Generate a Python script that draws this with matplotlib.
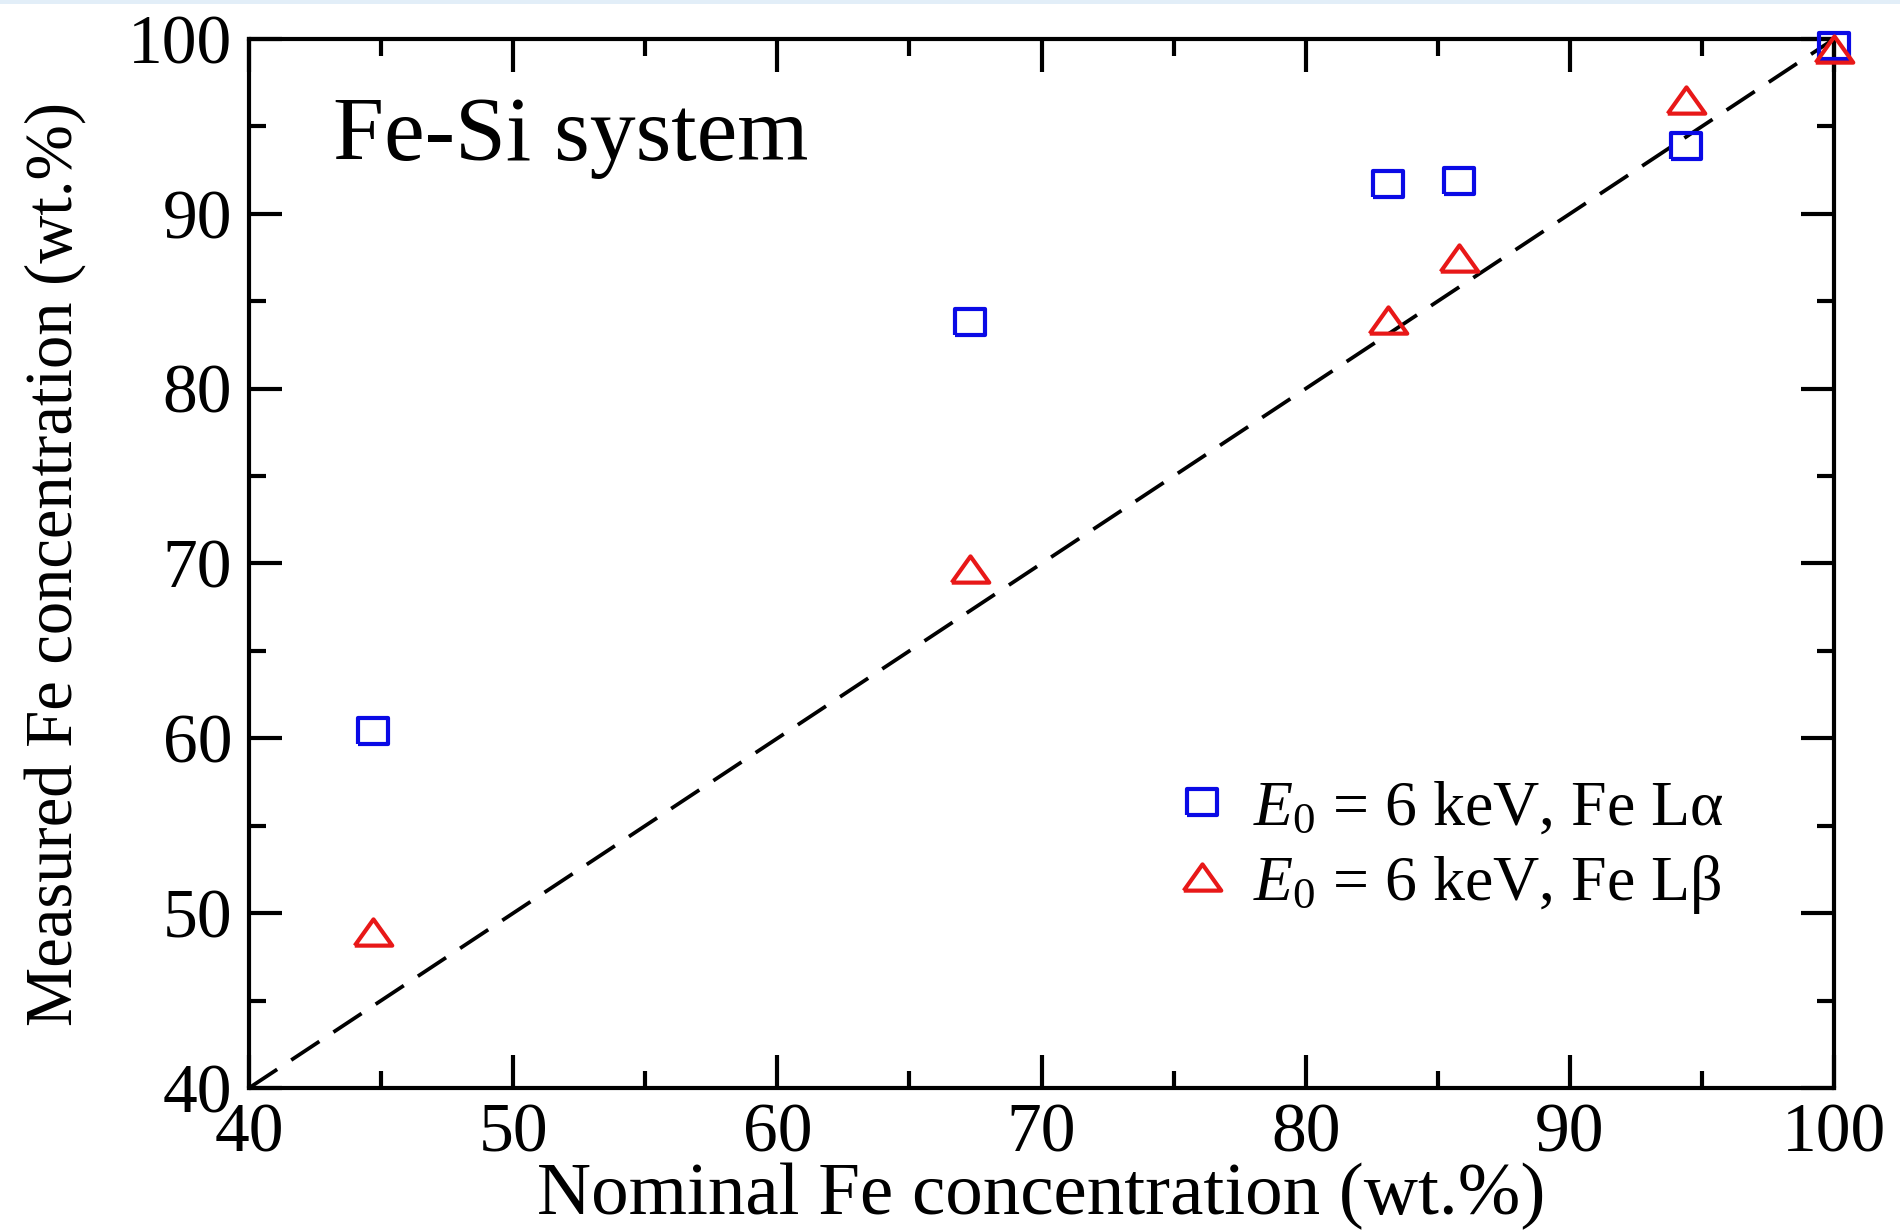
import matplotlib
matplotlib.use("Agg")
import matplotlib.pyplot as plt
from matplotlib.patches import Rectangle
from matplotlib.ticker import MultipleLocator

# ---- data ----
nominal = [44.7, 67.3, 83.1, 85.8, 94.4, 100.0]
measured_la = [60.4, 83.8, 91.7, 91.9, 93.9, 99.6]
measured_lb = [48.9, 69.7, 83.9, 87.5, 96.5, 99.4]
label_la = r"$E_0$ = 6 keV, Fe L$\mathrm{\alpha}$"
label_lb = r"$E_0$ = 6 keV, Fe L$\mathrm{\beta}$"
xlabel = "Nominal Fe concentration (wt.%)"
ylabel = "Measured Fe concentration (wt.%)"
annotation = "Fe-Si system"
axis_min, axis_max = 40, 100

plt.rcParams["font.family"] = ["Liberation Serif", "DejaVu Serif"]
plt.rcParams["mathtext.fontset"] = "custom"
plt.rcParams["mathtext.rm"] = "Liberation Serif"
plt.rcParams["mathtext.it"] = "Liberation Serif:italic"
plt.rcParams["mathtext.bf"] = "Liberation Serif:bold"

fig = plt.figure(figsize=(19.0, 12.31), dpi=100, facecolor="white")
fig.patches.append(Rectangle((0, 1 - 4 / 1231), 1, 4 / 1231, transform=fig.transFigure,
                             facecolor="#e2eef8", edgecolor="none", zorder=0))
ax = fig.add_axes([249 / 1900, 1 - 1088 / 1231, (1834 - 249) / 1900, (1088 - 39) / 1231])

# custom slightly wide markers (image is stretched horizontally)
sq_marker = [(-1.0, -0.87), (1.0, -0.87), (1.0, 0.87), (-1.0, 0.87), (-1.0, -0.87)]
tri_marker = [(-1.0, -0.7), (1.0, -0.7), (0.0, 0.7), (-1.0, -0.7)]

ax.plot([axis_min, axis_max], [axis_min, axis_max], color="black", lw=2.7,
        dashes=(9, 4.5), zorder=1)
ax.plot(nominal, measured_la, linestyle="none", marker=sq_marker, markersize=21,
        markerfacecolor="none", markeredgecolor="#0a0ae6", markeredgewidth=3.0,
        label=label_la, zorder=3, clip_on=False)
ax.plot(nominal, measured_lb, linestyle="none", marker=tri_marker, markersize=27,
        markerfacecolor="none", markeredgecolor="#e81818", markeredgewidth=3.0,
        label=label_lb, zorder=3, clip_on=False)

ax.set_xlim(axis_min, axis_max)
ax.set_ylim(axis_min, axis_max)
ax.xaxis.set_major_locator(MultipleLocator(10))
ax.xaxis.set_minor_locator(MultipleLocator(5))
ax.yaxis.set_major_locator(MultipleLocator(10))
ax.yaxis.set_minor_locator(MultipleLocator(5))
ax.tick_params(which="both", direction="in", top=True, right=True, width=3.0,
               labelsize=50)
ax.tick_params(axis="x", which="major", pad=11)
ax.tick_params(axis="y", which="major", pad=12)
ax.tick_params(which="major", length=24)
ax.tick_params(which="minor", length=12)
for s in ax.spines.values():
    s.set_linewidth(3.0)

ax.set_xlabel(xlabel, fontsize=54, labelpad=-3)
ax.set_ylabel(ylabel, fontsize=48, labelpad=30)

ax.text(0.053, 0.885, annotation, transform=ax.transAxes, fontsize=66,
        ha="left", va="baseline")

leg = ax.legend(loc="upper left", bbox_to_anchor=(0.563, 0.318), frameon=False,
                fontsize=46, handletextpad=0.25, labelspacing=0.22,
                handlelength=1.1, borderaxespad=0)

fig.savefig("out.png", dpi=100, facecolor="white")
